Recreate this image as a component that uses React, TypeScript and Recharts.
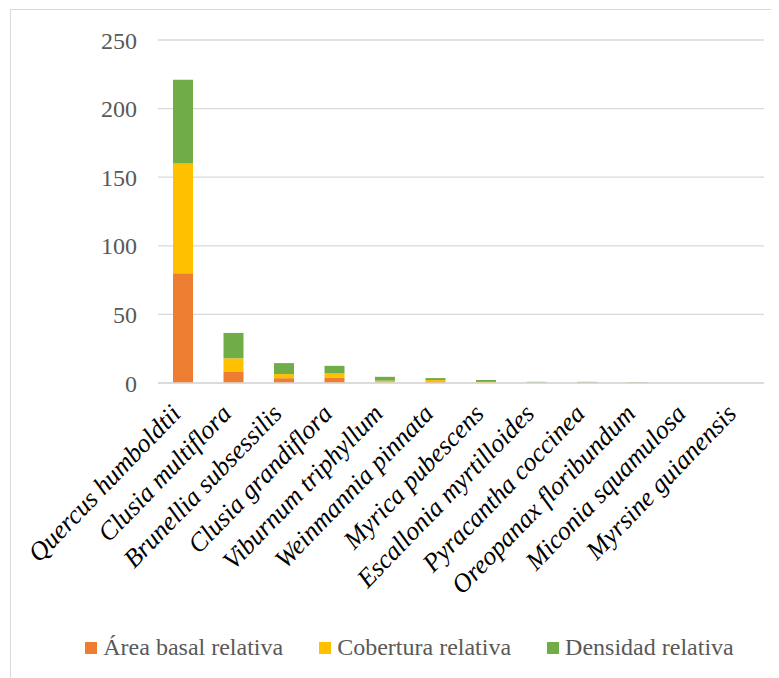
import React from 'react';
import { BarChart, Bar, XAxis, YAxis, CartesianGrid, Legend } from 'recharts';

const species = [
  'Quercus humboldtii',
  'Clusia multiflora',
  'Brunellia subsessilis',
  'Clusia grandiflora',
  'Viburnum triphyllum',
  'Weinmannia pinnata',
  'Myrica pubescens',
  'Escallonia myrtilloides',
  'Pyracantha coccinea',
  'Oreopanax floribundum',
  'Miconia squamulosa',
  'Myrsine guianensis',
];

const areaBasal = [80, 8, 3.5, 4, 0.3, 1.2, 0.2, 0.05, 0.05, 0.02, 0, 0];
const cobertura = [80, 10, 3, 3, 1.4, 1.0, 0.6, 0.1, 0.1, 0.05, 0, 0];
const densidad = [61, 18.5, 8, 5.5, 2.8, 1.4, 1.4, 0.7, 0.7, 0.5, 0, 0];

const yTicks = [0, 50, 100, 150, 200, 250];

const seriesInfo = [
  { key: 'area', name: 'Área basal relativa', color: '#ED7D31' },
  { key: 'cobertura', name: 'Cobertura relativa', color: '#FFC000' },
  { key: 'densidad', name: 'Densidad relativa', color: '#70AD47' },
];

const data = species.map((name, i) => ({
  name,
  area: areaBasal[i],
  cobertura: cobertura[i],
  densidad: densidad[i],
}));

const FONT = 'Liberation Serif';

const XTick = (props: any) => {
  const { x, y, payload } = props;
  return (
    <g transform={`translate(${x - 1},${y + 32})`}>
      <text
        x={0}
        y={0}
        textAnchor="end"
        transform="rotate(-46)"
        style={{ fontFamily: FONT, fontStyle: 'italic', fontSize: 26 }}
        fill="#000"
      >
        {payload.value}
      </text>
    </g>
  );
};

const renderLegend = () => (
  <div
    style={{
      display: 'flex',
      justifyContent: 'center',
      fontFamily: FONT,
      fontSize: 24,
      color: '#595959',
      paddingLeft: 22,
    }}
  >
    {seriesInfo.map((s) => (
      <div key={s.key} style={{ display: 'flex', alignItems: 'center', margin: '0 18px' }}>
        <span style={{ width: 12, height: 12, background: s.color, display: 'inline-block', marginRight: 6 }} />
        <span>{s.name}</span>
      </div>
    ))}
  </div>
);

export default function App() {
  return (
    <div
      style={{
        marginLeft: 2,
        marginTop: 1,
        width: 775,
        height: 670,
        border: '1px solid #d9d9d9',
        background: '#fff',
        fontFamily: FONT,
      }}
    >
      <BarChart
        width={775}
        height={670}
        data={data}
        margin={{ top: 30, right: 22, left: 0, bottom: 0 }}
        barSize={20}
        style={{ fontFamily: FONT }}
      >
        <CartesianGrid vertical={false} stroke="#d9d9d9" strokeWidth={1.3} />
        <XAxis
          dataKey="name"
          interval={0}
          height={297}
          tickSize={0}
          tickMargin={0}
          axisLine={{ stroke: '#d9d9d9', strokeWidth: 1.3 }}
          tickLine={false}
          tick={<XTick />}
        />
        <YAxis
          width={147}
          domain={[0, 250]}
          ticks={yTicks}
          axisLine={false}
          tickLine={false}
          tickSize={0}
          tickMargin={21}
          tick={{ fill: '#595959', fontSize: 24, fontFamily: FONT }}
        />
        <Legend
          layout="vertical"
          align="center"
          verticalAlign="middle"
          wrapperStyle={{ top: 624, left: 0, width: 775 }}
          content={renderLegend}
        />
        {seriesInfo.map((s) => (
          <Bar
            key={s.key}
            dataKey={s.key}
            name={s.name}
            stackId="a"
            fill={s.color}
            isAnimationActive={false}
          />
        ))}
      </BarChart>
    </div>
  );
}
